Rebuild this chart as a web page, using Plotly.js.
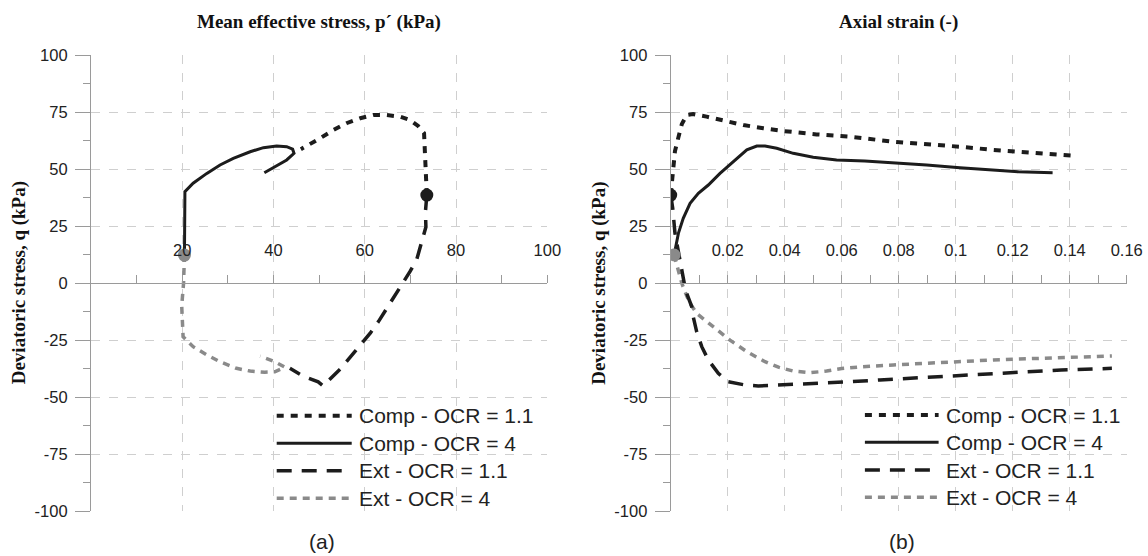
<!DOCTYPE html>
<html>
<head>
<meta charset="utf-8">
<script src="https://cdn.plot.ly/plotly-3.0.1.min.js"></script>
<style>html,body{margin:0;padding:0;background:#fff;}#chart{width:1148px;height:556px;}</style>
</head>
<body>
<div id="chart"></div>
<script>
// ---------- Data: panel (a) p' - q ----------
const compOcr11P = [73.6, 73.5, 73.4, 73.3, 73.0, 71.7, 69.9, 67.7, 64.8, 61.9, 59.0, 56.0, 53.1, 50.2, 46.0];
const compOcr11Q = [38.7, 45.0, 52.0, 60.0, 65.8, 69.0, 71.6, 73.1, 73.8, 73.8, 72.4, 70.2, 67.2, 63.6, 58.8];

const compOcr4P = [20.5, 20.5, 20.6, 22.4, 25.4, 28.3, 31.2, 34.9, 37.8, 40.7, 42.9, 44.2, 44.5, 42.9, 40.3, 38.0];
const compOcr4Q = [12.4, 38.0, 40.2, 43.9, 48.2, 51.9, 54.8, 57.7, 59.5, 60.2, 59.9, 58.8, 57.0, 54.1, 51.1, 48.5];

const extOcr11P = [73.6, 73.3, 73.4, 72.5, 71.4, 69.9, 68.3, 66.6, 64.8, 63.0, 61.2, 58.8, 56.8, 54.6, 52.0, 50.9, 49.8, 46.5, 43.6];
const extOcr11Q = [38.7, 31.4, 24.7, 17.8, 10.5, 5.1, 0.0, -5.5, -11.7, -16.8, -21.9, -27.5, -32.5, -37.7, -42.8, -45.0, -43.2, -40.7, -37.3];

const extOcr4P = [20.5, 20.3, 19.9, 20.0, 20.2, 22.4, 25.4, 28.3, 31.9, 34.9, 38.1, 40.3, 42.5, 40.3, 37.1];
const extOcr4Q = [12.4, 0.0, -10.0, -17.0, -23.4, -27.8, -31.4, -34.4, -37.3, -38.5, -39.0, -38.8, -36.8, -34.4, -32.0];

// start points (a)
const startOcr11A = {p: [73.6], q: [38.7]};
const startOcr4A = {p: [20.5], q: [12.4]};

// ---------- Data: panel (b) axial strain - q ----------
const compOcr11Eps = [0, 0.0004, 0.0008, 0.0015, 0.0027, 0.0039, 0.0056, 0.0079, 0.0126, 0.0185, 0.0255, 0.0325, 0.0395, 0.0512, 0.0629, 0.0781, 0.0898, 0.1015, 0.1132, 0.1249, 0.1412];
const compOcr11QB = [38.7, 44.0, 52.0, 58.0, 64.0, 69.8, 73.8, 74.2, 73.1, 71.3, 69.4, 68.0, 66.8, 65.3, 64.3, 62.1, 61.1, 59.9, 58.5, 57.4, 56.0];

const compOcr4Eps = [0.0012, 0.0027, 0.0044, 0.0068, 0.0097, 0.0132, 0.0173, 0.022, 0.0267, 0.0302, 0.0331, 0.0372, 0.043, 0.05, 0.0582, 0.0681, 0.0781, 0.0898, 0.1015, 0.1132, 0.122, 0.134];
const compOcr4QB = [12.4, 21.9, 28.5, 35.1, 39.5, 43.1, 48.2, 53.3, 58.5, 60.2, 60.2, 59.2, 57.0, 55.3, 54.1, 53.6, 52.9, 51.9, 50.7, 49.7, 48.9, 48.5];

const extOcr11Eps = [0, 0.0007, 0.0015, 0.003, 0.004, 0.0052, 0.0074, 0.0079, 0.0091, 0.0109, 0.0132, 0.0167, 0.0202, 0.0261, 0.0307, 0.0413, 0.0518, 0.0629, 0.0734, 0.084, 0.0945, 0.105, 0.1132, 0.1237, 0.137, 0.1548];
const extOcr11QB = [38.7, 33.0, 22.0, 12.0, 6.0, -3.0, -10.3, -14.6, -21.2, -27.8, -33.6, -39.5, -43.2, -44.6, -45.0, -44.5, -43.9, -43.2, -42.4, -41.7, -41.0, -40.2, -39.7, -39.0, -38.0, -37.3];

const extOcr4Eps = [0.0012, 0.0024, 0.0039, 0.0056, 0.0068, 0.0091, 0.012, 0.0138, 0.0167, 0.0208, 0.0267, 0.0331, 0.0378, 0.043, 0.0489, 0.0547, 0.06, 0.067, 0.0781, 0.0898, 0.1015, 0.1132, 0.1249, 0.1366, 0.1548];
const extOcr4QB = [12.4, 7.0, 0.0, -5.5, -8.8, -13.2, -16.1, -18.3, -21.2, -24.9, -30.0, -34.4, -36.8, -38.5, -39.2, -38.5, -37.4, -36.6, -35.8, -35.1, -34.1, -33.6, -33.1, -32.5, -31.9];

const startOcr11B = {e: [0], q: [38.7]};
const startOcr4B = {e: [0.0012], q: [12.4]};

// ---------- Labels ----------
const seriesNames = ['Comp - OCR = 1.1', 'Comp - OCR = 4', 'Ext - OCR = 1.1', 'Ext - OCR = 4'];
const xTicksA = [20, 40, 60, 80, 100];
const xMinorA = [10, 30, 50, 70, 90];
const xTicksB = [0.02, 0.04, 0.06, 0.08, 0.1, 0.12, 0.14, 0.16];
const xTickTextB = ['0.02', '0.04', '0.06', '0.08', '0.1', '0.12', '0.14', '0.16'];
const xMinorB = [0.01, 0.03, 0.05, 0.07, 0.09, 0.11, 0.13, 0.15];
const yTicks = [-100, -75, -50, -25, 0, 25, 50, 75, 100];
const yTickText = ['-100', '-75', '-50', '-25', '0', '25', '50', '75', '100'];
const yMinor = [-87.5, -62.5, -37.5, -12.5, 12.5, 37.5, 62.5, 87.5];
const titleA = 'Mean effective stress, p\u00B4 (kPa)';
const titleB = 'Axial strain (-)';
const yTitle = 'Deviatoric stress, q (kPa)';

// ---------- Styles ----------
const BLACK = '#1c1c1c', GREY = '#8a8a8a';
const styles = [
  {color: BLACK, width: 4, dash: '7px,7px'},
  {color: BLACK, width: 3, dash: 'solid'},
  {color: BLACK, width: 3.5, dash: '15px,10px'},
  {color: GREY, width: 3.5, dash: '7px,6px'}
];

function line(x, y, i, xa, ya) {
  return {x: x, y: y, xaxis: xa, yaxis: ya, type: 'scatter', mode: 'lines',
    name: seriesNames[i], line: {color: styles[i].color, width: styles[i].width, dash: styles[i].dash},
    hoverinfo: 'skip', showlegend: false};
}
function dot(x, y, color, xa, ya) {
  return {x: x, y: y, xaxis: xa, yaxis: ya, type: 'scatter', mode: 'markers',
    marker: {color: color, size: 13}, hoverinfo: 'skip', showlegend: false};
}

const traces = [
  line(extOcr4P, extOcr4Q, 3, 'x', 'y'),
  line(extOcr11P, extOcr11Q, 2, 'x', 'y'),
  line(compOcr11P, compOcr11Q, 0, 'x', 'y'),
  line(compOcr4P, compOcr4Q, 1, 'x', 'y'),
  dot(startOcr11A.p, startOcr11A.q, BLACK, 'x', 'y'),
  dot(startOcr4A.p, startOcr4A.q, GREY, 'x', 'y'),
  line(extOcr4Eps, extOcr4QB, 3, 'x2', 'y2'),
  line(extOcr11Eps, extOcr11QB, 2, 'x2', 'y2'),
  line(compOcr11Eps, compOcr11QB, 0, 'x2', 'y2'),
  line(compOcr4Eps, compOcr4QB, 1, 'x2', 'y2'),
  dot(startOcr11B.e, startOcr11B.q, BLACK, 'x2', 'y2'),
  dot(startOcr4B.e, startOcr4B.q, GREY, 'x2', 'y2')
];

// ---------- Layout geometry (pixels -> paper) ----------
const W = 1148, H = 556;
const fx = px => px / W, fy = py => 1 - py / H;
const yDom = [fy(511.3), fy(55.3)];
const zeroPos = (yDom[0] + yDom[1]) / 2;
const domA = [fx(90.9), fx(547.3)];
const domB = [fx(670.7), fx(1126.7)];

const AXC = '#9a9a9a', GRIDC = '#cfcfcf';
const tickFont = {family: 'Liberation Sans, Arial, sans-serif', size: 16.5, color: '#222'};

function xAxisTop(dom, range, tv, tt, minorVals) {
  return {domain: dom, range: range, anchor: 'free', position: zeroPos, side: 'top',
    tickmode: 'array', tickvals: tv, ticktext: tt, ticks: 'outside', ticklen: 8, tickcolor: AXC,
    showline: true, linecolor: AXC, linewidth: 1, zeroline: false,
    showgrid: true, gridcolor: GRIDC, griddash: 'dash', gridwidth: 1,
    tickfont: tickFont, ticklabelstandoff: 13,
    minor: {tickmode: 'array', tickvals: minorVals, ticks: 'outside', ticklen: 8, tickcolor: AXC, showgrid: false},
    fixedrange: true};
}
function xAxisCross(dom, range, tv, minorVals, match) {
  return {domain: dom, range: range, anchor: 'free', position: zeroPos, side: 'bottom', overlaying: match,
    tickmode: 'array', tickvals: tv, ticks: 'outside', ticklen: 8, tickcolor: AXC, showticklabels: false,
    showline: false, zeroline: false, showgrid: false,
    minor: {tickmode: 'array', tickvals: minorVals, ticks: 'outside', ticklen: 8, tickcolor: AXC, showgrid: false},
    fixedrange: true};
}
function yAxis(anchor) {
  return {domain: yDom, range: [-100, 100], anchor: anchor, tickmode: 'array', tickvals: yTicks, ticktext: yTickText,
    ticks: 'outside', ticklen: 15, tickcolor: AXC, showline: true, linecolor: AXC, linewidth: 1,
    zeroline: false, showgrid: true, gridcolor: GRIDC, griddash: 'dash', gridwidth: 1,
    tickfont: tickFont, ticklabelstandoff: 4,
    minor: {tickmode: 'array', tickvals: yMinor, ticks: 'outside', ticklen: 7, tickcolor: AXC, showgrid: false},
    fixedrange: true};
}

// ---------- Custom legends ----------
const legendRowsA = [415.7, 443.3, 470.7, 498.3];
const legendRowsB = [415.0, 442.3, 470.0, 497.3];
const shapes = [], annotations = [];
function addLegend(rows, x0, x1, xt) {
  rows.forEach((py, i) => {
    shapes.push({type: 'line', xref: 'paper', yref: 'paper', x0: fx(x0), x1: fx(x1), y0: fy(py), y1: fy(py),
      line: {color: styles[i].color, width: styles[i].width, dash: styles[i].dash}});
    annotations.push({xref: 'paper', yref: 'paper', x: fx(xt), y: fy(py), xanchor: 'left', yanchor: 'middle',
      text: seriesNames[i], showarrow: false,
      font: {family: 'Liberation Sans, Arial, sans-serif', size: 21, color: '#222'}});
  });
}
addLegend(legendRowsA, 276.7, 351.7, 357);
addLegend(legendRowsB, 864.9, 938.6, 943.5);

const serifBold = {family: 'Liberation Serif, Times New Roman, serif', size: 19, color: '#111'};
annotations.push(
  {xref: 'paper', yref: 'paper', x: (domA[0] + domA[1]) / 2, y: fy(21.7), text: '<b>' + titleA + '</b>',
   showarrow: false, xanchor: 'center', yanchor: 'middle', font: serifBold},
  {xref: 'paper', yref: 'paper', x: (domB[0] + domB[1]) / 2, y: fy(21.7), text: '<b>' + titleB + '</b>',
   showarrow: false, xanchor: 'center', yanchor: 'middle', font: serifBold},
  {xref: 'paper', yref: 'paper', x: fx(19), y: fy(283.3), text: '<b>' + yTitle + '</b>', textangle: -90,
   showarrow: false, xanchor: 'center', yanchor: 'middle', font: serifBold},
  {xref: 'paper', yref: 'paper', x: fx(599.5), y: fy(283.3), text: '<b>' + yTitle + '</b>', textangle: -90,
   showarrow: false, xanchor: 'center', yanchor: 'middle', font: serifBold},
  {xref: 'paper', yref: 'paper', x: fx(321.5), y: fy(541.7), text: '(a)', showarrow: false,
   xanchor: 'center', yanchor: 'middle', font: {family: 'Liberation Sans, Arial, sans-serif', size: 21, color: '#222'}},
  {xref: 'paper', yref: 'paper', x: fx(901.7), y: fy(541.7), text: '(b)', showarrow: false,
   xanchor: 'center', yanchor: 'middle', font: {family: 'Liberation Sans, Arial, sans-serif', size: 21, color: '#222'}}
);

const layout = {
  width: W, height: H, margin: {l: 0, r: 0, t: 0, b: 0, pad: 0},
  paper_bgcolor: '#fff', plot_bgcolor: '#fff', showlegend: false,
  xaxis: xAxisTop(domA, [0, 100], xTicksA, xTicksA.map(String), xMinorA),
  xaxis3: xAxisCross(domA, [0, 100], xTicksA, xMinorA, 'x'),
  yaxis: yAxis('x'),
  xaxis2: xAxisTop(domB, [0, 0.16], xTicksB, xTickTextB, xMinorB),
  xaxis4: xAxisCross(domB, [0, 0.16], xTicksB, xMinorB, 'x2'),
  yaxis2: yAxis('x2'),
  shapes: shapes, annotations: annotations
};

Plotly.newPlot('chart', traces, layout, {staticPlot: true, displayModeBar: false});
</script>
</body>
</html>
